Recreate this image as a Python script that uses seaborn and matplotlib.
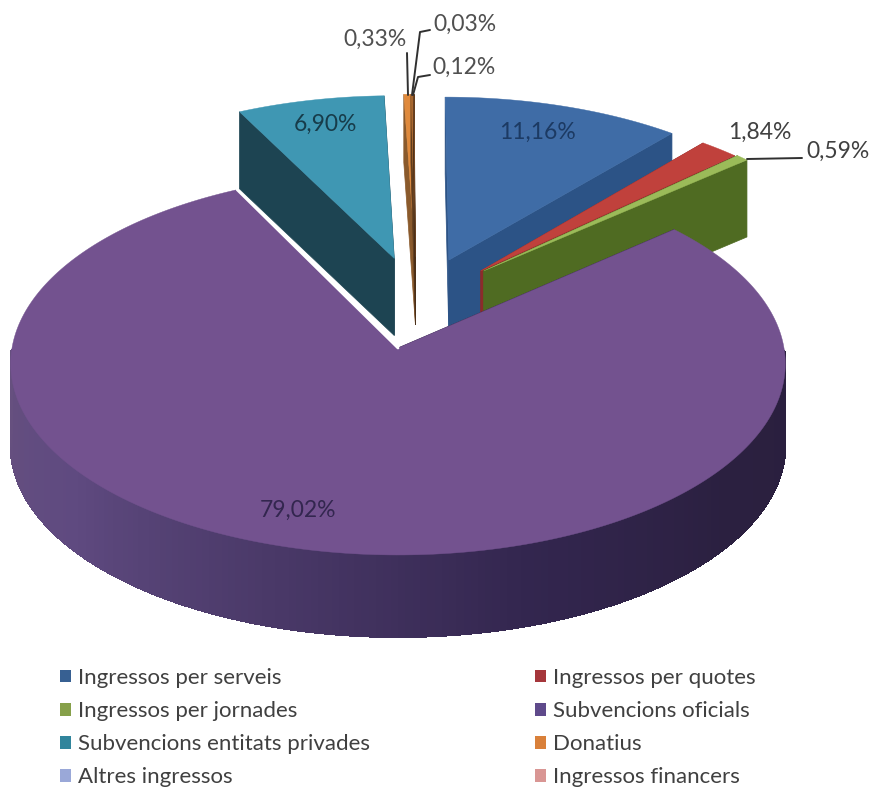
import numpy as np
import matplotlib
matplotlib.use('Agg')
import matplotlib.pyplot as plt
from matplotlib.collections import PolyCollection
from matplotlib.patches import Patch, Polygon
import seaborn as sns

# Data
categories = ['Ingressos per serveis', 'Ingressos per quotes', 'Ingressos per jornades',
              'Subvencions oficials', 'Subvencions entitats privades', 'Donatius',
              'Altres ingressos', 'Ingressos financers']
values = [11.16, 1.84, 0.59, 79.02, 6.90, 0.33, 0.12, 0.03]
value_labels = ['11,16%', '1,84%', '0,59%', '79,02%', '6,90%', '0,33%', '0,12%', '0,03%']

# Colours
top_colors = sns.color_palette(['#3f6ca6', '#c0413c', '#9bbb59', '#73528f',
                                '#3f97b3', '#e08a3c', '#a8672f', '#7a4a24'])
side_colors = sns.color_palette(['#2c5386', '#8c2c2a', '#4f6b22', '#2b2040',
                                 '#1d4452', '#8a5a2c', '#5e3c1e', '#4a2f18'])
legend_colors = sns.color_palette(['#376092', '#a5363b', '#86a04a', '#5f4a8b',
                                   '#31859c', '#d9803a', '#9aa8d8', '#d99694'])

# Projection of the pie plane on the picture
cx, cy = 398, 348
rad_x, rad_y, persp = 386, 190, 0.082
explode_u = [0.137, 0.222, 0.230, 0, -0.010, 0.047, 0.047, 0.047]
explode_v = [0.481, 0.420, 0.420, 0, 0.490, 0.500, 0.500, 0.500]
depth = [77, 77, 77, 82, 77, 68, 68, 68]


def project(u, v):
    w = 1 + persp * v
    return cx + rad_x * u / w, cy - rad_y * v / w


sns.set_theme(style='white')
plt.rcParams['font.family'] = ['Lato', 'DejaVu Sans']

fig = plt.figure(figsize=(8.73, 7.87), dpi=100)
ax = fig.add_axes([0, 0, 1, 1])
ax.set_xlim(0, 873)
ax.set_ylim(787, 0)
ax.axis('off')

# Slices, purple one goes last because it covers the others
edges = np.concatenate([[0], np.cumsum(values)]) / sum(values) * 2 * np.pi
for i in [0, 1, 2, 4, 7, 6, 5, 3]:
    theta = np.linspace(edges[i], edges[i + 1], max(int(np.degrees(edges[i + 1] - edges[i])), 2) + 1)
    px, py = project(explode_u[i] + np.sin(theta), explode_v[i] + np.cos(theta))
    ax_, ay_ = project(explode_u[i], explode_v[i])
    d = depth[i]

    # radial walls
    for ex, ey in [(px[0], py[0]), (px[-1], py[-1])]:
        ax.add_patch(Polygon([(ax_, ay_), (ex, ey), (ex, ey + d), (ax_, ay_ + d)],
                             facecolor=side_colors[i], edgecolor=side_colors[i], lw=0.5, zorder=i + 1))

    # outer wall, only the front half shows
    front = np.cos(theta) < -0.005
    if front.sum() > 1:
        fx, fy = px[front], py[front]
        quads = [[(fx[k], fy[k]), (fx[k + 1], fy[k + 1]), (fx[k + 1], fy[k + 1] + d), (fx[k], fy[k] + d)]
                 for k in range(len(fx) - 1)]
        shade = sns.blend_palette(['#2a1f3e', '#2b2040', '#33264f', '#4a3968', '#5f4a80', '#66507f'], len(quads))
        ax.add_collection(PolyCollection(quads, facecolors=shade, edgecolors=shade, linewidths=0.8,
                                         antialiaseds=False, zorder=i + 1))

    ax.add_patch(Polygon(np.vstack([[ax_, ay_], np.column_stack([px, py])]),
                         facecolor=top_colors[i], edgecolor=top_colors[i], lw=0.3, zorder=i + 1.5))

    # white edge between teal wall and the big slice
    if i == 3:
        ax.plot([ax_, px[-1]], [ay_, py[-1]], color='white', lw=2, zorder=i + 2)

# Value labels
text_pos = [(537, 132, '#1c3a63'), (760, 132, '#404040'), (838, 151, '#404040'), (298, 510, '#33264f'),
            (325, 124, '#173c4a'), (375, 39, '#505050'), (464, 67, '#505050'), (465, 24, '#505050')]
for lab, (tx, ty, col) in zip(value_labels, text_pos):
    ax.text(tx, ty, lab, color=col, fontsize=16.5, ha='center', va='center', zorder=20)

# Leader lines
leaders = [[(747, 159), (802, 158)],
           [(407, 53), (408, 95)],
           [(430, 30), (420, 32), (412, 95)],
           [(430, 75), (418, 77), (413, 95)]]
for line in leaders:
    xs, ys = zip(*line)
    ax.plot(xs, ys, color='#303030', lw=1.4, zorder=20)

# Legend reads across the rows, matplotlib fills by column
order = [0, 2, 4, 6, 1, 3, 5, 7]
handles = [Patch(facecolor=legend_colors[i], edgecolor='none', label=categories[i]) for i in order]
leg = ax.legend(handles=handles, ncol=2, loc='upper left', bbox_to_anchor=(60, 668), bbox_transform=ax.transData,
                frameon=False, fontsize=16, labelcolor='#404040', handlelength=0.5, handleheight=0.5,
                handletextpad=0.33, labelspacing=0.59, columnspacing=7.4, borderpad=0, borderaxespad=0)

fig.savefig('out.png', dpi=100)
